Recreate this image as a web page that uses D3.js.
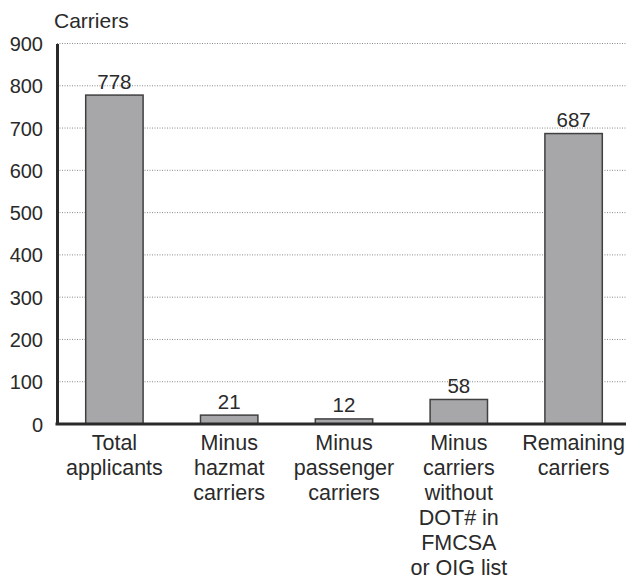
<!DOCTYPE html>
<html><head><meta charset="utf-8">
<script src="https://cdn.jsdelivr.net/npm/d3@7"></script>
<style>body{margin:0;background:#fff}svg text{font-family:"Liberation Sans",Arial,sans-serif;fill:#2a2a2a}</style>
</head><body><div id="chart"></div>
<script>
const categories = [
  ["Total","applicants"],
  ["Minus","hazmat","carriers"],
  ["Minus","passenger","carriers"],
  ["Minus","carriers","without","DOT# in","FMCSA","or OIG list"],
  ["Remaining","carriers"]
];
const values = [778, 21, 12, 58, 687];
const yTicks = [0,100,200,300,400,500,600,700,800,900];
const yTitle = "Carriers";

const W = 626, H = 580;
const m = {left:57, right:0, top:43.5, bottom:156};
const svg = d3.select("#chart").append("svg").attr("width",W).attr("height",H);
const ids = categories.map((c,i)=>"c"+i);
const x = d3.scaleBand().domain(ids).range([m.left, 631]).paddingInner(0.5).paddingOuter(0.25);
const y = d3.scaleLinear().domain([0,900]).range([H-m.bottom, m.top]);

// gridlines
svg.append("g").selectAll("line").data(yTicks.filter(t=>t>0)).join("line")
  .attr("x1",m.left).attr("x2",W).attr("y1",d=>y(d)).attr("y2",d=>y(d))
  .attr("stroke","#8a8a8a").attr("stroke-width",1).attr("stroke-dasharray","1,1.5");

// y axis
const ya = svg.append("g").attr("transform",`translate(${m.left},0)`)
  .call(d3.axisLeft(y).tickValues(yTicks).tickSize(0).tickPadding(14));
ya.select(".domain").attr("stroke","#2a2a2a").attr("stroke-width",3);
ya.selectAll("text").style("font-size","20px").attr("dy","0.35em");

// bars
svg.append("g").selectAll("rect").data(values).join("rect")
  .attr("x",(d,i)=>x(ids[i])).attr("width",x.bandwidth())
  .attr("y",d=>y(d)).attr("height",d=>y(0)-y(d))
  .attr("fill","#a7a7a9").attr("stroke","#404040").attr("stroke-width",1.5);

// value labels
svg.append("g").selectAll("text").data(values).join("text")
  .attr("x",(d,i)=>x(ids[i])+x.bandwidth()/2).attr("y",d=>y(d)-6.5)
  .attr("text-anchor","middle").style("font-size","20.5px").text(d=>d);

// x axis
const xa = svg.append("g").attr("transform",`translate(0,${y(0)})`)
  .call(d3.axisBottom(x).tickSize(0).tickFormat(""));
xa.select(".domain").attr("stroke","#2a2a2a").attr("stroke-width",3).attr("d",`M${m.left-1.5},0H${W}`);
xa.selectAll(".tick").each(function(d,i){
  const t = d3.select(this).append("text").attr("text-anchor","middle").style("font-size","21.5px");
  categories[i].forEach((ln,j)=>t.append("tspan").attr("x",0).attr("y",25.5+j*25).text(ln));
});

// y title
svg.append("text").attr("x",54).attr("y",28).style("font-size","21px").text(yTitle);
</script></body></html>
